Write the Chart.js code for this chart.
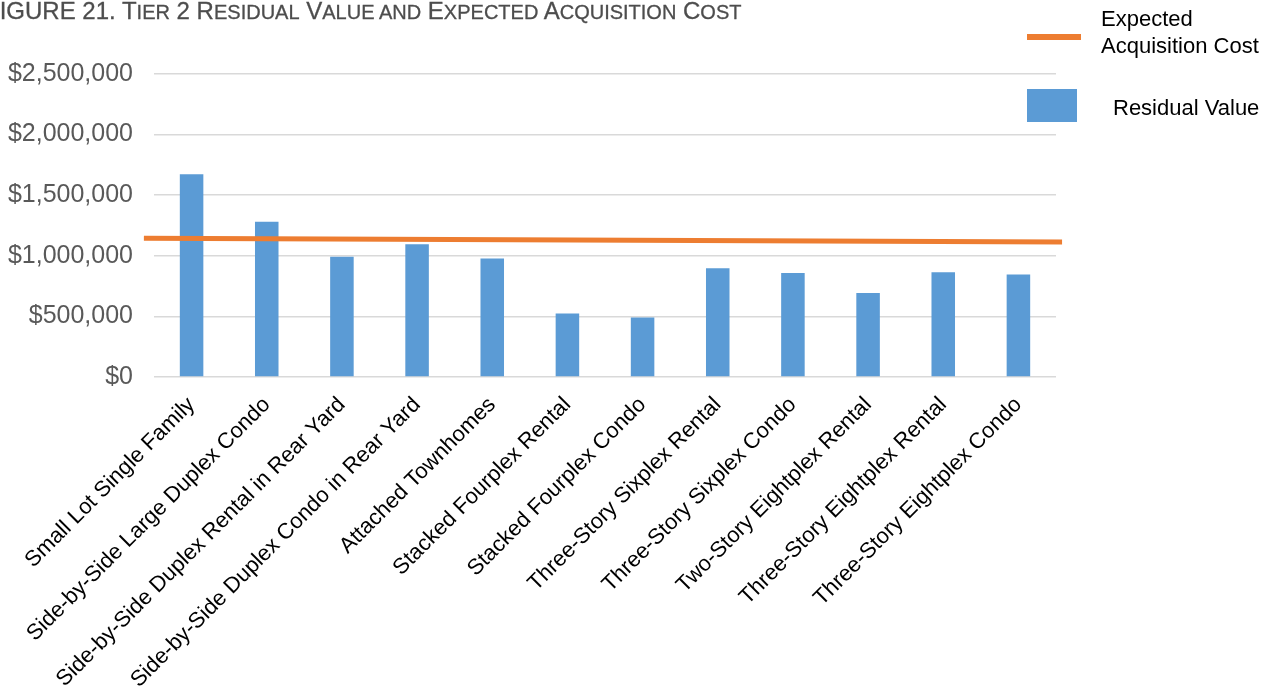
<!DOCTYPE html>
<html>
<head>
<meta charset="utf-8">
<script src="https://cdn.jsdelivr.net/npm/chart.js@4.4.1/dist/chart.umd.min.js"></script>
<style>
  html, body { margin: 0; padding: 0; background: #fff; overflow: hidden; }
  #wrap { position: relative; width: 1279px; height: 691px; }
  #chart { position: absolute; left: 0; top: 0; }
  .title {
    position: absolute; left: -15px; top: -2px; white-space: nowrap;
    font-family: "Liberation Sans", Arial, sans-serif;
    font-size: 24px; color: #4d4d4d; line-height: 26px; -webkit-text-stroke: 0.3px #4d4d4d;
  }
  .title .sc { font-size: 20px; }
  .legend { position: absolute; font-family: "Liberation Sans", Arial, sans-serif; font-size: 22px; color: #000; }
  .swatch-line { position: absolute; left: 1027px; top: 34px; width: 54px; height: 6px; background: #ed7d31; }
  .swatch-bar { position: absolute; left: 1027px; top: 89px; width: 50px; height: 33px; background: #5b9bd5; }
</style>
</head>
<body>
<div id="wrap">
  <canvas id="chart" width="1279" height="691"></canvas>
  <div class="title">FIGURE 21. T<span class="sc">IER</span> 2 R<span class="sc">ESIDUAL</span> V<span class="sc">ALUE AND</span> E<span class="sc">XPECTED</span> A<span class="sc">CQUISITION</span> C<span class="sc">OST</span></div>
  <div class="swatch-line"></div>
  <div class="legend" style="left:1101px; top:5px; line-height:27px;">Expected<br>Acquisition Cost</div>
  <div class="swatch-bar"></div>
  <div class="legend" style="left:1113px; top:94px; line-height:27px;">Residual Value</div>
</div>
<script>
// Building types
const categories = [
  'Small Lot Single Family',
  'Side-by-Side Large Duplex Condo',
  'Side-by-Side Duplex Rental in Rear Yard',
  'Side-by-Side Duplex Condo in Rear Yard',
  'Attached Townhomes',
  'Stacked Fourplex Rental',
  'Stacked Fourplex Condo',
  'Three-Story Sixplex Rental',
  'Three-Story Sixplex Condo',
  'Two-Story Eightplex Rental',
  'Three-Story Eightplex Rental',
  'Three-Story Eightplex Condo'
];

// Residual value per building type ($)
const residualValues = [1672000, 1281000, 992000, 1096000, 978000, 523000, 490000, 898000, 859000, 693000, 865000, 846000];

// Expected acquisition cost line: start and end of the line
const acqCostX = [0, 1];
const acqCostY = [1145000, 1114000];

// Y axis ticks
const yTicks = [0, 500000, 1000000, 1500000, 2000000, 2500000];

const ctx = document.getElementById('chart');

new Chart(ctx, {
  type: 'bar',
  data: {
    labels: categories,
    datasets: [
      {
        type: 'line',
        label: 'Expected Acquisition Cost',
        data: acqCostX.map((x, i) => ({ x: x, y: acqCostY[i] })),
        xAxisID: 'xLine',
        borderColor: '#ed7d31',
        borderWidth: 5,
        pointRadius: 0,
        clip: false,
        order: 0
      },
      {
        type: 'bar',
        label: 'Residual Value',
        data: residualValues,
        backgroundColor: '#5b9bd5',
        grouped: false,
        categoryPercentage: 1,
        barPercentage: 0.313,
        order: 1
      }
    ]
  },
  options: {
    responsive: false,
    animation: false,
    layout: { padding: { top: 74, right: 223, left: 0, bottom: 0 } },
    plugins: {
      legend: { display: false },
      tooltip: { enabled: false }
    },
    scales: {
      x: {
        type: 'category',
        grid: { display: false, drawTicks: false },
        border: { display: false },
        ticks: {
          color: '#000',
          font: { family: '"Liberation Sans", Arial, sans-serif', size: 22 },
          minRotation: 45,
          maxRotation: 45,
          autoSkip: false,
          padding: 15
        },
        afterFit: (scale) => { scale.height = 314; }
      },
      xLine: {
        type: 'linear',
        display: false,
        offset: false,
        min: 0.011,
        max: 0.9934
      },
      y: {
        min: 0,
        max: 2500000,
        afterBuildTicks: (scale) => { scale.ticks = yTicks.map(v => ({ value: v })); },
        grid: { color: '#d9d9d9', lineWidth: 1.5, drawTicks: false },
        border: { display: false },
        ticks: {
          color: '#595959',
          font: { family: '"Liberation Sans", Arial, sans-serif', size: 25 },
          padding: 21,
          callback: (v) => '$' + Number(v).toLocaleString('en-US')
        },
        afterFit: (scale) => { scale.width = 154; }
      }
    }
  }
});
</script>
</body>
</html>
